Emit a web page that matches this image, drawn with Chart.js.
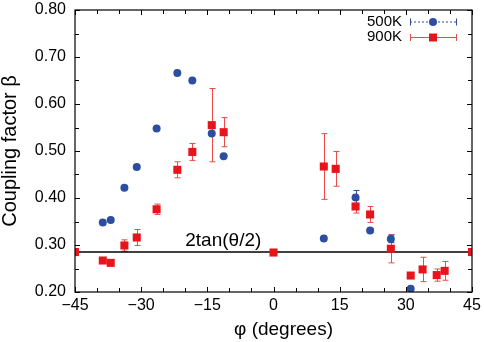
<!DOCTYPE html>
<html>
<head>
<meta charset="utf-8">
<script src="https://cdn.jsdelivr.net/npm/chart.js@4.4.1/dist/chart.umd.min.js"></script>
<style>
  html, body { margin: 0; padding: 0; background: #fff; }
  #wrap { width: 484px; height: 342px; }
</style>
</head>
<body>
<div id="wrap"><canvas id="couplingChart" width="484" height="342"></canvas></div>
<script>
// angles (degrees) and coupling factor values
const blueX = [-38.7, -36.9, -33.8, -31.0, -26.5, -21.8, -18.4, -14.0, -11.3, 11.4, 18.6, 21.9, 26.6, 31.1];
const blueY = [0.348, 0.353, 0.422, 0.466, 0.548, 0.666, 0.650, 0.537, 0.489, 0.314, 0.401, 0.331, 0.313, 0.207];
const blueErr = [0, 0, 0, 0, 0, 0, 0, 0, 0, 0, 0.015, 0.004, 0.008, 0];

const redX = [-45, -38.7, -36.9, -33.8, -31.0, -26.5, -21.8, -18.4, -14.0, -11.3, 0, 11.4, 14.1, 18.6, 21.9, 26.6, 31.1, 33.8, 37.0, 38.8, 45];
const redY = [0.285, 0.267, 0.262, 0.299, 0.316, 0.376, 0.460, 0.498, 0.555, 0.540, 0.284, 0.467, 0.462, 0.382, 0.365, 0.292, 0.235, 0.248, 0.236, 0.245, 0.285];
const redErr = [0, 0, 0, 0.012, 0.017, 0.011, 0.017, 0.018, 0.078, 0.031, 0, 0.070, 0.037, 0.014, 0.017, 0.030, 0, 0.026, 0.013, 0.020, 0];

const refLineX = [-45, 45];
const refLineY = [0.285, 0.285];
const refLabel = '2tan(θ/2)';

const xLabelTicks = [-45, -30, -15, 0, 15, 30, 45];
const yLabelTicks = [0.20, 0.30, 0.40, 0.50, 0.60, 0.70, 0.80];

const seriesNames = ['500K', '900K'];
const BLUE = '#2d4da0';
const RED = '#e8141c';
const RED_BAR = '#ee4a4a';
const FONT = '"Liberation Sans", Arial, sans-serif';

function toPoints(xs, ys) {
    return xs.map(function (x, i) { return { x: x, y: ys[i] }; });
}

// inward tick marks on all four sides plus the frame
const framePlugin = {
    id: 'frame',
    afterDraw: function (chart) {
        const ctx = chart.ctx;
        const a = chart.chartArea;
        const xs = chart.scales.x, ys = chart.scales.y;
        ctx.save();
        ctx.strokeStyle = '#000';
        ctx.lineWidth = 1;
        ctx.beginPath();
        xs.ticks.forEach(function (t) {
            const px = Math.round(xs.getPixelForValue(t.value)) + 0.5;
            const len = xLabelTicks.indexOf(t.value) >= 0 ? 5 : 4;
            ctx.moveTo(px, a.bottom); ctx.lineTo(px, a.bottom - len);
            ctx.moveTo(px, a.top); ctx.lineTo(px, a.top + len);
        });
        ys.ticks.forEach(function (t) {
            const py = Math.round(ys.getPixelForValue(t.value)) + 0.5;
            const major = Math.round(t.value * 100) % 10 === 0;
            const len = major ? 5 : 4;
            ctx.moveTo(a.left, py); ctx.lineTo(a.left + len, py);
            ctx.moveTo(a.right, py); ctx.lineTo(a.right - len, py);
        });
        ctx.stroke();
        ctx.lineWidth = 1.2;
        ctx.strokeRect(a.left, a.top, a.right - a.left, a.bottom - a.top);

        // x axis title
        ctx.fillStyle = '#000';
        ctx.font = '19px ' + FONT;
        ctx.textAlign = 'center';
        ctx.textBaseline = 'middle';
        ctx.fillText('φ (degrees)', (a.left + a.right) / 2 + 10, 330);

        // reference line label
        ctx.font = '19px ' + FONT;
        ctx.textAlign = 'left';
        ctx.textBaseline = 'alphabetic';
        ctx.fillText(refLabel, xs.getPixelForValue(-20), ys.getPixelForValue(refLineY[0]) - 6);

        // legend, gnuplot style
        const lx0 = a.right - 62, lx1 = a.right - 16, lm = (lx0 + lx1) / 2;
        const rows = [a.top + 11.5, a.top + 27];
        ctx.font = '15px ' + FONT;
        ctx.textAlign = 'right';
        ctx.textBaseline = 'middle';
        rows.forEach(function (ry, i) {
            ctx.fillStyle = '#000';
            ctx.fillText(seriesNames[i], lx0 - 8, ry);
            const col = i === 0 ? BLUE : RED;
            ctx.strokeStyle = i === 0 ? BLUE : RED_BAR;
            ctx.lineWidth = 1;
            ctx.setLineDash(i === 0 ? [2, 2] : []);
            ctx.beginPath();
            ctx.moveTo(lx0, ry + 0.5); ctx.lineTo(lx1, ry + 0.5);
            ctx.stroke();
            ctx.setLineDash([]);
            ctx.beginPath();
            ctx.moveTo(lx0 + 0.5, ry - 3); ctx.lineTo(lx0 + 0.5, ry + 4);
            ctx.moveTo(lx1 + 0.5, ry - 3); ctx.lineTo(lx1 + 0.5, ry + 4);
            ctx.stroke();
            ctx.fillStyle = col;
            ctx.beginPath();
            if (i === 0) {
                ctx.arc(lm, ry + 0.5, 4, 0, Math.PI * 2);
            } else {
                ctx.rect(lm - 4, ry - 3.5, 8, 8);
            }
            ctx.fill();
        });
        ctx.restore();
    }
};

// vertical error bars with caps, drawn under the markers
const errorBarPlugin = {
    id: 'errorBars',
    beforeDatasetsDraw: function (chart) {
        const ctx = chart.ctx;
        const xs = chart.scales.x, ys = chart.scales.y;
        ctx.save();
        ctx.lineWidth = 1;
        chart.data.datasets.forEach(function (ds) {
            if (!ds.errors) return;
            ctx.strokeStyle = ds.errorColor;
            ctx.beginPath();
            ds.data.forEach(function (p, i) {
                const e = ds.errors[i];
                if (!e) return;
                const px = Math.round(xs.getPixelForValue(p.x)) + 0.5;
                const top = ys.getPixelForValue(p.y + e);
                const bot = ys.getPixelForValue(p.y - e);
                ctx.moveTo(px, top); ctx.lineTo(px, bot);
                ctx.moveTo(px - 3, top); ctx.lineTo(px + 3, top);
                ctx.moveTo(px - 3, bot); ctx.lineTo(px + 3, bot);
            });
            ctx.stroke();
        });
        ctx.restore();
    }
};

function noLabelPadding(scale) {
    scale.paddingTop = 0;
    scale.paddingBottom = 0;
    scale.paddingLeft = 0;
    scale.paddingRight = 0;
}

document.addEventListener('DOMContentLoaded', function () {
    const ctx = document.getElementById('couplingChart').getContext('2d');
    const chart = new Chart(ctx, {
        type: 'scatter',
        data: {
            datasets: [{
                label: seriesNames[1],
                data: toPoints(redX, redY),
                errors: redErr,
                errorColor: RED_BAR,
                pointStyle: 'rect',
                pointRadius: 5.7,
                pointBackgroundColor: RED,
                pointBorderWidth: 0,
                order: 1
            }, {
                label: seriesNames[0],
                data: toPoints(blueX, blueY),
                errors: blueErr,
                errorColor: BLUE,
                pointStyle: 'circle',
                pointRadius: 4,
                pointBackgroundColor: BLUE,
                pointBorderWidth: 0,
                order: 2
            }, {
                type: 'line',
                label: refLabel,
                data: toPoints(refLineX, refLineY),
                borderColor: '#000',
                borderWidth: 1.5,
                pointRadius: 0,
                order: 3
            }]
        },
        options: {
            responsive: false,
            animation: false,
            events: [],
            layout: { padding: { left: 0, right: 12, top: 10, bottom: 0 } },
            plugins: {
                legend: { display: false },
                tooltip: { enabled: false }
            },
            scales: {
                x: {
                    type: 'linear',
                    min: -45,
                    max: 45,
                    grid: { display: false, drawTicks: false },
                    border: { display: false },
                    ticks: {
                        stepSize: 5,
                        autoSkip: false,
                        maxRotation: 0,
                        padding: 4,
                        color: '#000',
                        font: { family: FONT, size: 16 },
                        callback: function (v) {
                            if (xLabelTicks.indexOf(v) < 0) return '';
                            return v < 0 ? '\u2212' + Math.abs(v) : String(v);
                        }
                    },
                    afterFit: function (scale) {
                        scale.height = 50;
                        noLabelPadding(scale);
                    }
                },
                y: {
                    min: 0.2,
                    max: 0.8,
                    grid: { display: false, drawTicks: false },
                    border: { display: false },
                    ticks: {
                        stepSize: 0.05,
                        autoSkip: false,
                        padding: 9,
                        color: '#000',
                        font: { family: FONT, size: 16 },
                        callback: function (v) {
                            const r = Math.round(v * 100) / 100;
                            return yLabelTicks.some(function (t) { return Math.abs(t - r) < 1e-6; }) ? r.toFixed(2) : '';
                        }
                    },
                    title: {
                        display: true,
                        text: 'Coupling factor β',
                        color: '#000',
                        font: { family: FONT, size: 20, lineHeight: 1 },
                        padding: { top: 0, bottom: 0 }
                    },
                    afterFit: function (scale) {
                        scale.width = 75;
                        noLabelPadding(scale);
                    }
                }
            }
        },
        plugins: [errorBarPlugin, framePlugin]
    });
});
</script>
</body>
</html>
